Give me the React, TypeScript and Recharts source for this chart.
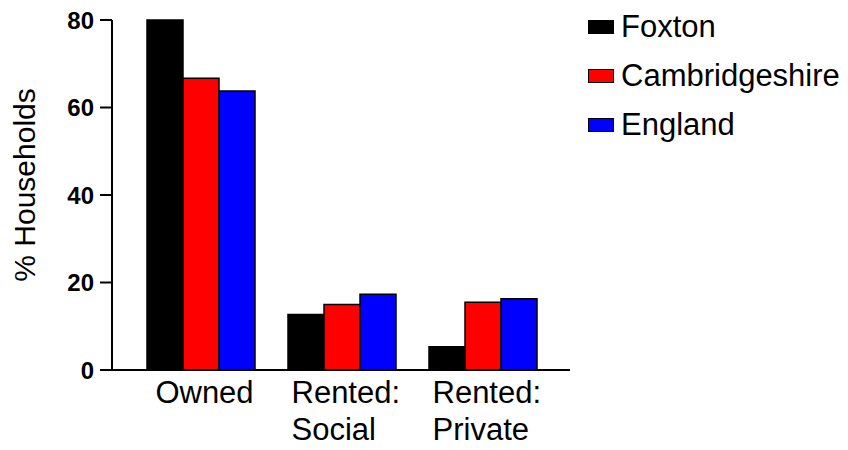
import { BarChart, Bar, XAxis, YAxis, Legend } from 'recharts';

const categories = ['Owned', 'Rented:\nSocial', 'Rented:\nPrivate'];
const seriesNames = ['Foxton', 'Cambridgeshire', 'England'];
const foxton = [80, 12.7, 5.3];
const cambridgeshire = [66.7, 15.0, 15.5];
const england = [63.8, 17.3, 16.3];
const yTicks = [0, 20, 40, 60, 80];

const font = '"Liberation Sans", Arial, sans-serif';

const data = categories.map((category, i) => ({
    category,
    Foxton: foxton[i],
    Cambridgeshire: cambridgeshire[i],
    England: england[i],
}));

const CategoryTick = (props: any) => {
    const { x, y, payload } = props;
    const lines: string[] = String(payload.value).split('\n');
    if (lines.length === 1) {
        return (
            <text x={x + 4} y={y + 33} textAnchor="middle" fontFamily={font} fontSize={31} fill="#000">
                {lines[0]}
            </text>
        );
    }
    return (
        <text x={x - 50} y={y + 33} textAnchor="start" fontFamily={font} fontSize={31} fill="#000">
            {lines.map((line, i) => (
                <tspan key={i} x={x - 50} dy={i === 0 ? 0 : 37}>{line}</tspan>
            ))}
        </text>
    );
};

const SeriesLegend = (props: any) => {
    const items = [...(props.payload || [])].sort(
        (a: any, b: any) => seriesNames.indexOf(a.value) - seriesNames.indexOf(b.value));
    return (
        <div>
            {items.map((entry: any) => (
                <div key={entry.value} style={{ display: 'flex', alignItems: 'center', height: 49, fontFamily: font, fontSize: 31, whiteSpace: 'nowrap' }}>
                    <span style={{
                        display: 'inline-block', width: 24, height: 12, background: entry.color,
                        border: '1.5px solid #000', marginRight: 7, flex: 'none',
                    }} />
                    <span style={{ color: '#000' }}>{entry.value}</span>
                </div>
            ))}
        </div>
    );
};

const HouseholdsChart = () => {
    return (
        <div style={{ position: 'absolute', top: 0, left: 0, background: '#fff' }}>
            <BarChart width={848} height={450} data={data}
                margin={{ top: 20, right: 18, left: 0, bottom: 0 }}
                barCategoryGap={17} barGap={0}>
                <XAxis dataKey="category" height={80} padding={{ left: 18, right: 17 }}
                    axisLine={{ stroke: '#000', strokeWidth: 2 }} tickLine={false}
                    tickSize={0} tickMargin={0} tick={<CategoryTick />} interval={0} />
                <YAxis width={112} domain={[0, 80]} ticks={yTicks}
                    axisLine={{ stroke: '#000', strokeWidth: 2 }}
                    tickLine={{ stroke: '#000', strokeWidth: 2 }} tickSize={12} tickMargin={6}
                    tick={{ fill: '#000', fontSize: 24, fontWeight: 'bold', fontFamily: font }}
                    label={({ viewBox }: any) => (
                        <text x={24} y={viewBox.y + viewBox.height / 2 - 10} textAnchor="middle"
                            dominantBaseline="central" transform={`rotate(-90 24 ${viewBox.y + viewBox.height / 2 - 10})`}
                            fontFamily={font} fontSize={30} fill="#000">% Households</text>
                    )} />
                <Legend layout="vertical" verticalAlign="top" align="right" content={<SeriesLegend />}
                    wrapperStyle={{ top: 2, left: 588, width: 260 }} />
                <Bar dataKey="Foxton" name="Foxton" fill="#000000" stroke="#000" strokeWidth={1.5} isAnimationActive={false} />
                <Bar dataKey="Cambridgeshire" name="Cambridgeshire" fill="#ff0000" stroke="#000" strokeWidth={1.5} isAnimationActive={false} />
                <Bar dataKey="England" name="England" fill="#0000ff" stroke="#000" strokeWidth={1.5} isAnimationActive={false} />
            </BarChart>
        </div>
    );
};

export default HouseholdsChart;
